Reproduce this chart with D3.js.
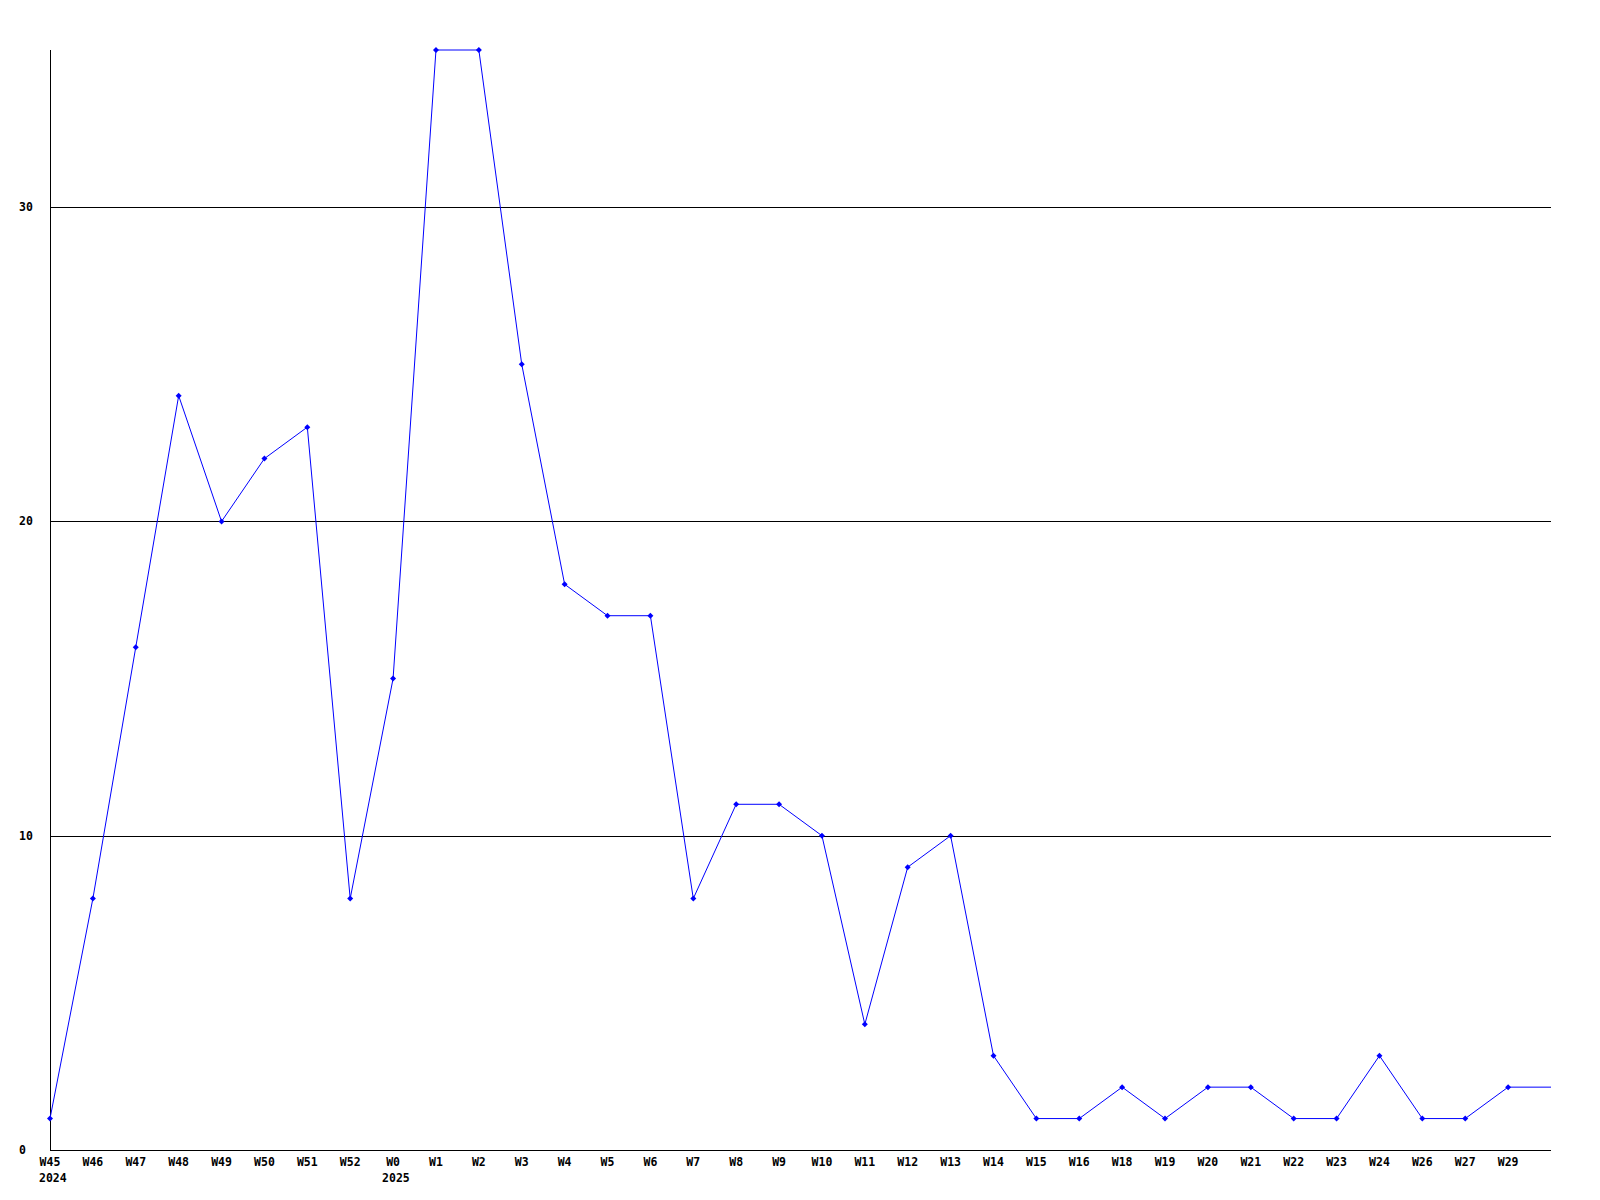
<!DOCTYPE html>
<html><head><meta charset="utf-8">
<script src="https://cdn.jsdelivr.net/npm/d3@7"></script>
<style>body{margin:0;background:#fff}svg{display:block}</style>
</head><body>
<svg id="c" width="1600" height="1200"></svg>
<script>
const weeks = ["W45","W46","W47","W48","W49","W50","W51","W52","W0","W1","W2","W3","W4","W5","W6","W7","W8","W9","W10","W11","W12","W13","W14","W15","W16","W18","W19","W20","W21","W22","W23","W24","W26","W27","W29",""];
const values = [1,8,16,24,20,22,23,8,15,35,35,25,18,17,17,8,11,11,10,4,9,10,3,1,1,2,1,2,2,1,1,3,1,1,2,2];
const yearLabels = [{week:"W45",year:"2024"},{week:"W0",year:"2025"}];
const yTicks = [0,10,20,30];

(function(){
const svg = d3.select("#c");
const pL = 50, pR = 1551, pT = 50, pB = 1150;
const x = d3.scalePoint().domain(d3.range(weeks.length)).range([pL, pR]);
const y = d3.scaleLinear().domain([0, 35]).range([pB, pT]);
const font = "'DejaVu Sans Mono', monospace";

svg.append("g").selectAll("line").data(yTicks.filter(d => d > 0)).join("line")
  .attr("x1", pL).attr("x2", pR)
  .attr("y1", d => Math.round(y(d)) + 0.5).attr("y2", d => Math.round(y(d)) + 0.5)
  .attr("stroke", "#000").attr("stroke-width", 1).attr("shape-rendering", "crispEdges");

svg.append("line").attr("x1", pL + 0.5).attr("x2", pL + 0.5).attr("y1", pT).attr("y2", pB)
  .attr("stroke", "#000").attr("shape-rendering", "crispEdges");
svg.append("line").attr("x1", pL).attr("x2", pR).attr("y1", pB + 0.5).attr("y2", pB + 0.5)
  .attr("stroke", "#000").attr("shape-rendering", "crispEdges");

svg.append("g").selectAll("text").data(yTicks).join("text")
  .attr("x", 19).attr("y", d => y(d) + 4)
  .attr("font-family", font).attr("font-size", "11.5px").attr("font-weight", "bold")
  .text(d => d);

svg.append("g").selectAll("text").data(weeks.map((w, i) => ({w, i})).filter(d => d.w !== "")).join("text")
  .attr("x", d => x(d.i)).attr("y", 1166).attr("text-anchor", "middle")
  .attr("font-family", font).attr("font-size", "11.5px").attr("font-weight", "bold")
  .text(d => d.w);
svg.append("g").selectAll("text").data(yearLabels).join("text")
  .attr("x", d => x(weeks.indexOf(d.week)) - 11).attr("y", 1182)
  .attr("font-family", font).attr("font-size", "11.5px").attr("font-weight", "bold")
  .text(d => d.year);

const line = d3.line().x((d, i) => x(i)).y(d => y(d));
svg.append("path").datum(values).attr("d", line)
  .attr("fill", "none").attr("stroke", "#0000ff").attr("stroke-width", 1);

svg.append("g").selectAll("path").data(values.slice(0, weeks.length - 1)).join("path")
  .attr("transform", (d, i) => `translate(${x(i)},${y(d)})`)
  .attr("d", "M0,-3L3,0L0,3L-3,0Z")
  .attr("fill", "#0000ff");
})();
</script>
</body></html>
